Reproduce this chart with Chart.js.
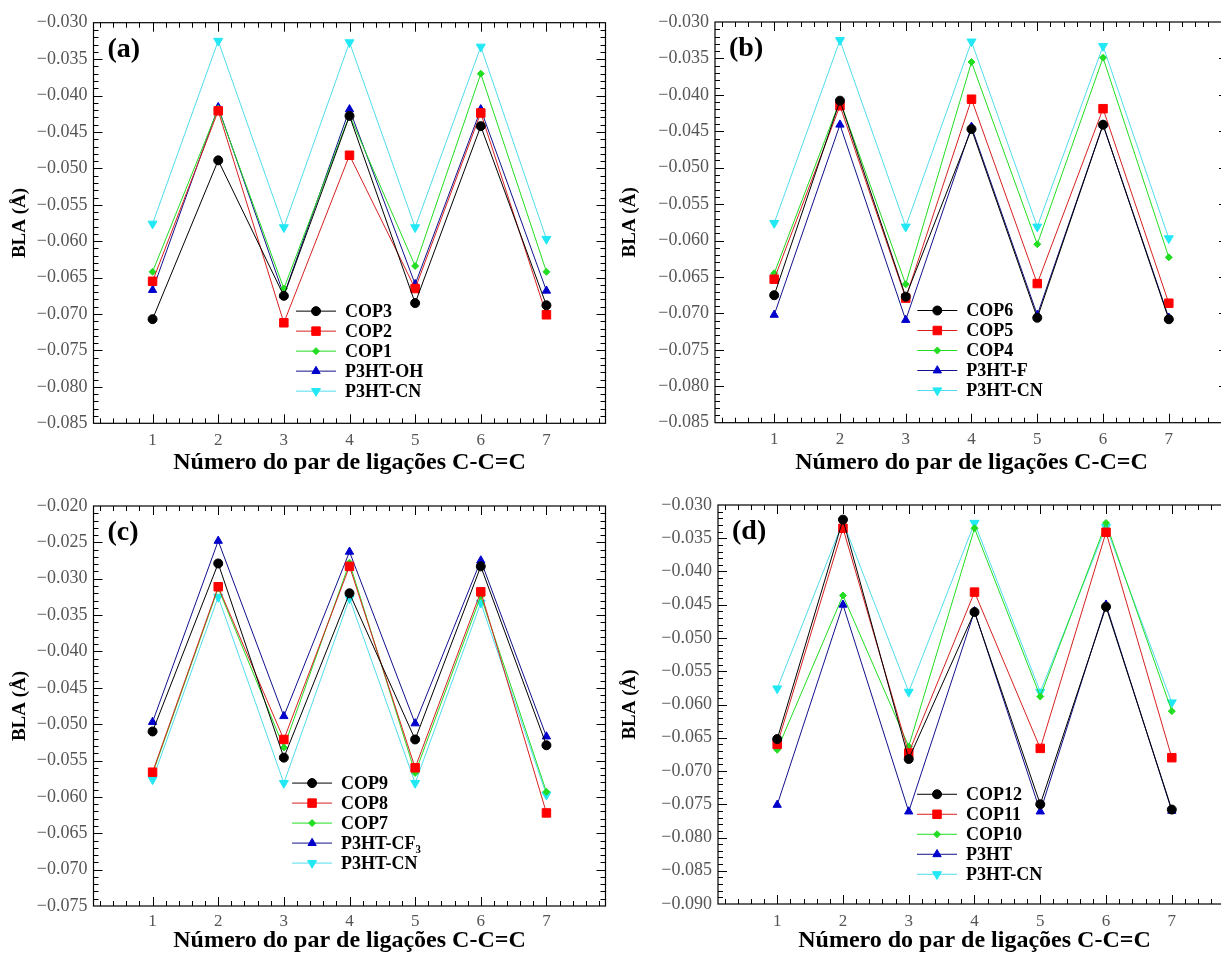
<!DOCTYPE html>
<html>
<head>
<meta charset="utf-8">
<script src="https://cdn.jsdelivr.net/npm/chart.js@4.4.1/dist/chart.umd.min.js"></script>
<style>
  html, body { margin: 0; padding: 0; background: #fff; overflow: hidden; }
  #wrap { position: relative; width: 1221px; height: 955px; overflow: hidden; }
  canvas { position: absolute; }
</style>
</head>
<body>
<div id="wrap">
  <canvas id="cA" width="615" height="477" style="left:0;top:0"></canvas>
  <canvas id="cB" width="625" height="477" style="left:610px;top:0"></canvas>
  <canvas id="cC" width="615" height="478" style="left:0;top:477px"></canvas>
  <canvas id="cD" width="630" height="478" style="left:610px;top:477px"></canvas>
</div>
<script>
// BLA per C-C=C pair, four panels

// x categories (pair number) and tick labels
const pairs = [1, 2, 3, 4, 5, 6, 7];
const xTicks = [1, 2, 3, 4, 5, 6, 7];

// shared reference series
const p3htCN = [-0.0576, -0.0325, -0.0581, -0.0327, -0.0581, -0.0333, -0.0597];

// (a)
const cop3 = [-0.0707, -0.0489, -0.0675, -0.0428, -0.0685, -0.0442, -0.0688];
const cop2 = [-0.0655, -0.0421, -0.0712, -0.0482, -0.0665, -0.0424, -0.0701];
const cop1 = [-0.0642, -0.0418, -0.0665, -0.0427, -0.0634, -0.0370, -0.0642];
const p3htOH = [-0.0667, -0.0416, -0.0674, -0.0419, -0.0659, -0.0419, -0.0668];

// (b)
const cop6 = [-0.0675, -0.0408, -0.0677, -0.0447, -0.0706, -0.0441, -0.0708];
const cop5 = [-0.0653, -0.0415, -0.0679, -0.0406, -0.0659, -0.0419, -0.0686];
const cop4 = [-0.0645, -0.0408, -0.0660, -0.0355, -0.0605, -0.0349, -0.0623];
const p3htF = [-0.0702, -0.0441, -0.0709, -0.0444, -0.0702, -0.0441, -0.0706];

// (c)
const cop9 = [-0.0510, -0.0279, -0.0546, -0.0320, -0.0521, -0.0283, -0.0529];
const cop8 = [-0.0566, -0.0311, -0.0521, -0.0283, -0.0560, -0.0318, -0.0622];
const cop7 = [-0.0568, -0.0313, -0.0532, -0.0278, -0.0567, -0.0324, -0.0593];
const p3htCF3 = [-0.0497, -0.0248, -0.0489, -0.0263, -0.0499, -0.0275, -0.0517];

// (d)
const cop12 = [-0.0652, -0.0322, -0.0682, -0.0461, -0.0750, -0.0453, -0.0758];
const cop11 = [-0.0660, -0.0335, -0.0673, -0.0431, -0.0666, -0.0341, -0.0680];
const cop10 = [-0.0668, -0.0436, -0.0663, -0.0335, -0.0588, -0.0327, -0.0610];
const p3ht = [-0.0751, -0.0450, -0.0761, -0.0460, -0.0761, -0.0450, -0.0760];

// y tick labels per panel
const yTicksAB = [-0.085, -0.080, -0.075, -0.070, -0.065, -0.060, -0.055, -0.050, -0.045, -0.040, -0.035, -0.030];
const yTicksC = [-0.075, -0.070, -0.065, -0.060, -0.055, -0.050, -0.045, -0.040, -0.035, -0.030, -0.025, -0.020];
const yTicksD = [-0.090, -0.085, -0.080, -0.075, -0.070, -0.065, -0.060, -0.055, -0.050, -0.045, -0.040, -0.035, -0.030];

const serif = "'Liberation Serif', 'Times New Roman', serif";
Chart.defaults.font.family = serif;

// marker / line style for the 5 series slots
const styles = [
  { line: '#000000', fill: '#000000', pointStyle: 'circle', radius: 4.5, rot: 0 },
  { line: '#d82020', fill: '#ff0000', pointStyle: 'rect', radius: 6, rot: 0 },
  { line: '#22dd22', fill: '#22dd22', pointStyle: 'rectRot', radius: 3.5, rot: 0 },
  { line: '#10108a', fill: '#0000cc', pointStyle: 'triangle', radius: 4.8, rot: 0 },
  { line: '#50dcec', fill: '#22e8f4', pointStyle: 'triangle', radius: 5.2, rot: 180 }
];

function makeDatasets(names, series) {
  return names.map((name, i) => {
    const s = styles[i];
    return {
      label: name,
      data: pairs.map((p, k) => ({ x: p, y: series[i][k] })),
      borderColor: s.line,
      backgroundColor: s.fill,
      pointBackgroundColor: s.fill,
      pointBorderColor: s.fill,
      borderWidth: 1,
      pointBorderWidth: 1,
      pointStyle: s.pointStyle,
      pointRadius: s.radius,
      pointRotation: s.rot,
      tension: 0
    };
  });
}

// frame, inward ticks on all sides, panel letter and legend
const decor = {
  id: 'decor',
  afterDatasetsDraw(chart, args, o) {
    const { ctx, chartArea: a, scales: { x, y } } = chart;
    ctx.save();
    ctx.strokeStyle = '#000';
    ctx.lineWidth = 1.2;
    ctx.strokeRect(a.left, a.top, a.right - a.left, a.bottom - a.top);
    ctx.lineWidth = 1;
    ctx.beginPath();
    // x ticks (major at integers, minor every 0.2)
    for (let k = 1; k <= 39; k++) {
      const v = k * 0.2;
      const px = Math.round(x.getPixelForValue(v)) + 0.5;
      const len = (k % 5 === 0) ? 9 : 5;
      ctx.moveTo(px, a.bottom); ctx.lineTo(px, a.bottom - len);
      ctx.moveTo(px, a.top); ctx.lineTo(px, a.top + len);
    }
    // y ticks (major every 0.005, minor every 0.001)
    const n = Math.round((y.max - y.min) / 0.001);
    for (let k = 1; k < n; k++) {
      const v = y.min + k * 0.001;
      const py = Math.round(y.getPixelForValue(v)) + 0.5;
      const len = (k % 5 === 0) ? 9 : 5;
      ctx.moveTo(a.left, py); ctx.lineTo(a.left + len, py);
      ctx.moveTo(a.right, py); ctx.lineTo(a.right - len, py);
    }
    ctx.stroke();

    // panel letter
    ctx.fillStyle = '#000';
    ctx.font = 'bold 28px ' + serif;
    ctx.textAlign = 'left';
    ctx.textBaseline = 'middle';
    ctx.fillText(o.letter, a.left + 14, a.top + 27);

    // legend
    const mx = x.getPixelForValue(o.legX);
    const y0 = y.getPixelForValue(o.legY);
    chart.data.datasets.forEach((ds, i) => {
      const yy = y0 + i * 20;
      ctx.strokeStyle = ds.borderColor;
      ctx.lineWidth = 1;
      ctx.beginPath();
      ctx.moveTo(mx - 20, yy); ctx.lineTo(mx + 20, yy);
      ctx.stroke();
      ctx.fillStyle = ds.pointBackgroundColor;
      ctx.strokeStyle = ds.pointBorderColor;
      Chart.helpers.drawPoint(ctx, {
        pointStyle: ds.pointStyle, rotation: ds.pointRotation,
        radius: ds.pointRadius, borderWidth: 1
      }, mx, yy);
      ctx.fillStyle = '#000';
      ctx.font = 'bold 18px ' + serif;
      ctx.fillText(ds.label, mx + 29, yy + 1);
    });
    ctx.restore();
  }
};

function makeChart(id, geo, names, series, yTicks, letter, legX, legY) {
  const canvas = document.getElementById(id);
  const W = canvas.width, H = canvas.height;
  return new Chart(canvas.getContext('2d'), {
    type: 'line',
    data: { datasets: makeDatasets(names, series) },
    options: {
      responsive: false,
      animation: false,
      layout: { padding: { left: 0, top: geo.top, right: W - geo.right, bottom: 0 } },
      plugins: {
        legend: { display: false },
        tooltip: { enabled: false },
        decor: { letter: letter, legX: legX, legY: legY }
      },
      scales: {
        x: {
          type: 'linear',
          min: 0.1, max: 7.9,
          afterBuildTicks: s => { s.ticks = xTicks.map(v => ({ value: v })); },
          afterFit: s => { s.height = H - geo.bottom; },
          grid: { display: false, drawTicks: false },
          border: { display: false },
          ticks: { color: '#555', font: { size: 17 }, padding: geo.tickPad, maxRotation: 0, autoSkip: false },
          title: {
            display: true, text: 'Número do par de ligações C-C=C', color: '#000',
            font: { size: 24, weight: 'bold', lineHeight: 1 }, padding: { top: 0, bottom: geo.titleB }
          }
        },
        y: {
          type: 'linear',
          min: yTicks[0], max: yTicks[yTicks.length - 1],
          afterBuildTicks: s => { s.ticks = yTicks.map(v => ({ value: v })); },
          afterFit: s => { s.width = geo.left; },
          grid: { display: false, drawTicks: false },
          border: { display: false },
          ticks: {
            color: '#555', font: { size: 18 }, padding: 6, autoSkip: false,
            callback: v => '\u2212' + Math.abs(v).toFixed(3)
          },
          title: {
            display: true, text: 'BLA (Å)', color: '#000',
            font: { size: 19, weight: 'bold', lineHeight: 1.2 }, padding: { top: 9, bottom: 0 }
          }
        }
      }
    },
    plugins: [decor]
  });
}

makeChart('cA', { left: 93.5, top: 22.7, right: 605.5, bottom: 423.3, titleB: 2, tickPad: 7 },
  ['COP3', 'COP2', 'COP1', 'P3HT-OH', 'P3HT-CN'], [cop3, cop2, cop1, p3htOH, p3htCN],
  yTicksAB, '(a)', 3.49, -0.0696);

makeChart('cB', { left: 105, top: 22, right: 618, bottom: 422.7, titleB: 2, tickPad: 7 },
  ['COP6', 'COP5', 'COP4', 'P3HT-F', 'P3HT-CN'], [cop6, cop5, cop4, p3htF, p3htCN],
  yTicksAB, '(b)', 3.48, -0.0696);

makeChart('cC', { left: 93.5, top: 29, right: 605.5, bottom: 429, titleB: 2, tickPad: 5 },
  ['COP9', 'COP8', 'COP7', 'P3HT-CF\u2083', 'P3HT-CN'], [cop9, cop8, cop7, p3htCF3, p3htCN],
  yTicksC, '(c)', 3.43, -0.0581);

makeChart('cD', { left: 108, top: 28, right: 621, bottom: 427, titleB: 2, tickPad: 7 },
  ['COP12', 'COP11', 'COP10', 'P3HT', 'P3HT-CN'], [cop12, cop11, cop10, p3ht, p3htCN],
  yTicksD, '(d)', 3.43, -0.0735);
</script>
</body>
</html>
